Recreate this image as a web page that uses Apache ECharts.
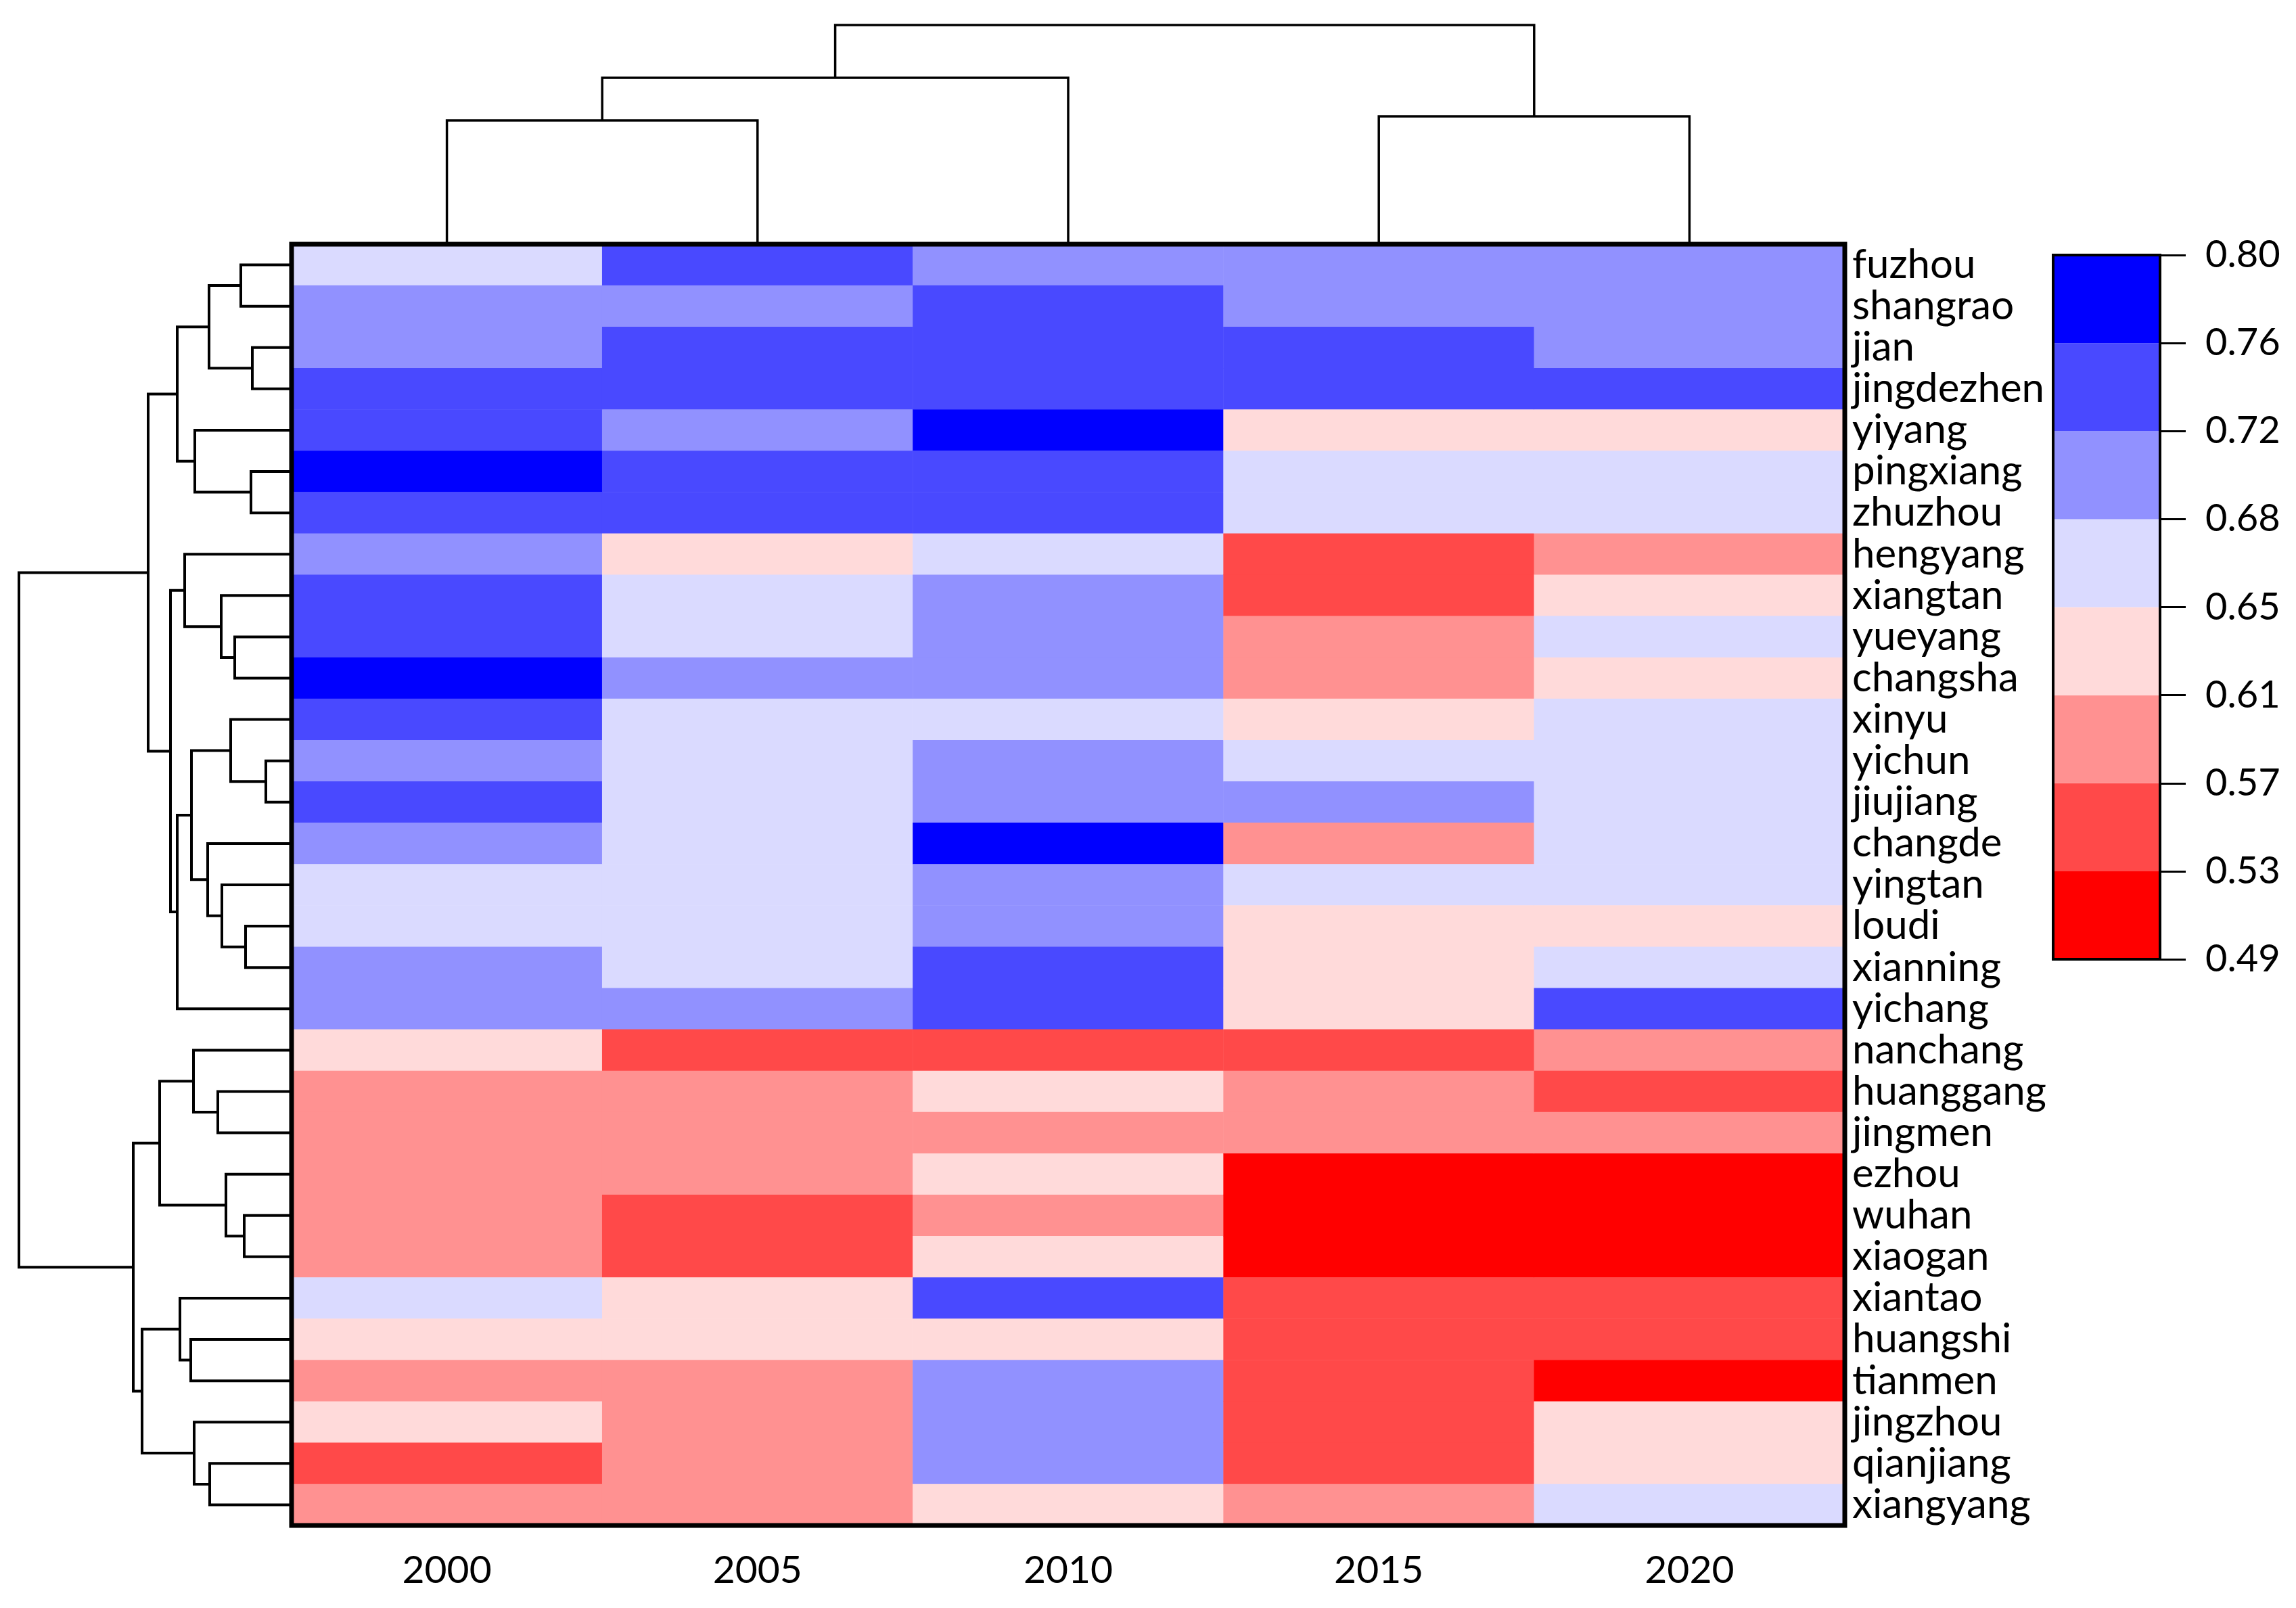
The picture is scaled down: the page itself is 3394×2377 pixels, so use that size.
<!DOCTYPE html>
<html>
<head>
<meta charset="utf-8">
<script src="https://cdn.jsdelivr.net/npm/echarts@6/dist/echarts.min.js"></script>
<style>
  html, body { margin: 0; padding: 0; background: #fff; }
  #main { width: 3394px; height: 2377px; }
</style>
</head>
<body>
<div id="main"></div>
<script>
// 列（年份）与行（城市）
const years = ['2000', '2005', '2010', '2015', '2020'];
const cities = [
  'fuzhou', 'shangrao', 'jian', 'jingdezhen', 'yiyang', 'pingxiang', 'zhuzhou',
  'hengyang', 'xiangtan', 'yueyang', 'changsha', 'xinyu', 'yichun', 'jiujiang',
  'changde', 'yingtan', 'loudi', 'xianning', 'yichang', 'nanchang', 'huanggang',
  'jingmen', 'ezhou', 'wuhan', 'xiaogan', 'xiantao', 'huangshi', 'tianmen',
  'jingzhou', 'qianjiang', 'xiangyang'
];

// 每年的数值，按城市顺序
const v2000 = [0.66, 0.70, 0.70, 0.74, 0.74, 0.78, 0.74, 0.70, 0.74, 0.74, 0.78, 0.74, 0.70, 0.74, 0.70, 0.66,
  0.66, 0.70, 0.70, 0.63, 0.59, 0.59, 0.59, 0.59, 0.59, 0.66, 0.63, 0.59, 0.63, 0.55, 0.59];
const v2005 = [0.74, 0.70, 0.74, 0.74, 0.70, 0.74, 0.74, 0.63, 0.66, 0.66, 0.70, 0.66, 0.66, 0.66, 0.66, 0.66,
  0.66, 0.66, 0.70, 0.55, 0.59, 0.59, 0.59, 0.55, 0.55, 0.63, 0.63, 0.59, 0.59, 0.59, 0.59];
const v2010 = [0.70, 0.74, 0.74, 0.74, 0.78, 0.74, 0.74, 0.66, 0.70, 0.70, 0.70, 0.66, 0.70, 0.70, 0.78, 0.70,
  0.70, 0.74, 0.74, 0.55, 0.63, 0.59, 0.63, 0.59, 0.63, 0.74, 0.63, 0.70, 0.70, 0.70, 0.63];
const v2015 = [0.70, 0.70, 0.74, 0.74, 0.63, 0.66, 0.66, 0.55, 0.55, 0.59, 0.59, 0.63, 0.66, 0.70, 0.59, 0.66,
  0.63, 0.63, 0.63, 0.55, 0.59, 0.59, 0.51, 0.51, 0.51, 0.55, 0.55, 0.55, 0.55, 0.55, 0.59];
const v2020 = [0.70, 0.70, 0.70, 0.74, 0.63, 0.66, 0.66, 0.59, 0.63, 0.66, 0.63, 0.66, 0.66, 0.66, 0.66, 0.66,
  0.63, 0.66, 0.74, 0.59, 0.55, 0.59, 0.51, 0.51, 0.51, 0.55, 0.55, 0.51, 0.63, 0.63, 0.66];
const yearValues = [v2000, v2005, v2010, v2015, v2020];

// 色带分段
const breaks = [0.49, 0.52875, 0.5675, 0.60625, 0.645, 0.68375, 0.7225, 0.76125, 0.80];
const breakLabels = ['0.49', '0.53', '0.57', '0.61', '0.65', '0.68', '0.72', '0.76', '0.80'];
const binColors = ['#FF0000', '#FF4949', '#FF9191', '#FFDADA', '#DADAFF', '#9191FF', '#4949FF', '#0000FF'];

// 聚类树：[左节点, 右节点, 合并高度]，叶子为 0..n-1，新节点依次编号
const rowLinkage = [
  [0, 1, 0.75], [2, 3, 0.58], [31, 32, 1.22], [5, 6, 0.60], [4, 34, 1.43], [33, 35, 1.69],
  [9, 10, 0.84], [8, 37, 1.04], [7, 38, 1.58], [12, 13, 0.38], [11, 40, 0.90], [16, 17, 0.68],
  [15, 42, 1.03], [14, 43, 1.24], [41, 44, 1.48], [45, 18, 1.69], [39, 46, 1.79], [36, 47, 2.12],
  [20, 21, 1.09], [19, 49, 1.45], [23, 24, 0.70], [22, 51, 0.97], [50, 52, 1.95], [26, 27, 1.49],
  [25, 54, 1.65], [29, 30, 1.21], [28, 56, 1.44], [55, 57, 2.21], [53, 58, 2.34], [48, 59, 4.03]
];
const colLinkage = [[0, 1, 1.83], [5, 2, 2.46], [3, 4, 1.89], [6, 7, 3.24]];

const FONT = 'Lato';

function dendroSegments(linkage, nLeaves) {
  const pos = [], h = [];
  for (let i = 0; i < nLeaves; i++) { pos.push(i); h.push(0); }
  const segs = [];
  linkage.forEach(m => {
    const a = m[0], b = m[1];
    segs.push([pos[a], h[a], pos[b], h[b], m[2]]);
    pos.push((pos[a] + pos[b]) / 2);
    h.push(m[2]);
  });
  return segs;
}

const heatData = [];
yearValues.forEach((vals, j) => {
  vals.forEach((v, i) => heatData.push([j, i, v]));
});

const pieces = binColors.map((c, i) => ({ gte: breaks[i], lt: breaks[i + 1], color: c }));
pieces[pieces.length - 1].lte = breaks[breaks.length - 1];
delete pieces[pieces.length - 1].lt;

const legendSeries = binColors.map((c, i) => ({
  type: 'bar',
  xAxisIndex: 3,
  yAxisIndex: 3,
  stack: 'legend',
  barWidth: '100%',
  data: [1],
  itemStyle: { color: c },
  silent: true
}));

const chart = echarts.init(document.getElementById('main'));

chart.setOption({
  backgroundColor: '#fff',
  animation: false,
  grid: [
    // 0 热图
    { left: 431, top: 361, width: 2296, height: 1894, show: true, borderColor: '#000', borderWidth: 7, z: 10 },
    // 1 左侧聚类树
    { left: 28, top: 361, width: 403, height: 1894 },
    // 2 顶部聚类树
    { left: 431, top: 37, width: 2296, height: 324 },
    // 3 色带
    { left: 3035, top: 377, width: 158, height: 1041, show: true, borderColor: '#000', borderWidth: 4, z: 10 }
  ],
  xAxis: [
    {
      gridIndex: 0, type: 'category', data: years,
      axisLine: { show: false }, axisTick: { show: false },
      axisLabel: { fontSize: 57, fontFamily: FONT, color: '#000', margin: 38 }
    },
    { gridIndex: 1, type: 'value', min: 0, max: 4.03, inverse: true, show: false },
    { gridIndex: 2, type: 'value', min: -0.5, max: 4.5, show: false },
    { gridIndex: 3, type: 'category', data: ['k'], show: false }
  ],
  yAxis: [
    {
      gridIndex: 0, type: 'category', data: cities, inverse: true, position: 'right',
      axisLine: { show: false }, axisTick: { show: false },
      axisLabel: { fontSize: 60, fontFamily: FONT, color: '#000', margin: 11, interval: 0 }
    },
    { gridIndex: 1, type: 'value', min: -0.5, max: 30.5, inverse: true, show: false },
    { gridIndex: 2, type: 'value', min: 0, max: 3.24, show: false },
    {
      gridIndex: 3, type: 'value', min: 0, max: 8, interval: 1, position: 'right',
      splitLine: { show: false },
      axisLine: { show: false },
      axisTick: { show: true, inside: false, length: 38, lineStyle: { color: '#000', width: 3 } },
      axisLabel: {
        fontSize: 56, fontFamily: FONT, color: '#000', margin: 67,
        showMinLabel: true, showMaxLabel: true,
        formatter: v => breakLabels[v]
      }
    }
  ],
  visualMap: {
    type: 'piecewise',
    show: false,
    seriesIndex: 0,
    dimension: 2,
    pieces: pieces
  },
  series: [
    {
      type: 'heatmap',
      xAxisIndex: 0,
      yAxisIndex: 0,
      data: heatData,
      itemStyle: { borderWidth: 0 },
      emphasis: { disabled: true }
    },
    {
      type: 'custom',
      xAxisIndex: 1,
      yAxisIndex: 1,
      data: dendroSegments(rowLinkage, cities.length),
      renderItem: function (params, api) {
        const pa = api.value(0), ha = api.value(1), pb = api.value(2), hb = api.value(3), hm = api.value(4);
        return {
          type: 'polyline',
          shape: { points: [api.coord([ha, pa]), api.coord([hm, pa]), api.coord([hm, pb]), api.coord([hb, pb])] },
          style: { stroke: '#000', lineWidth: 4, fill: null }
        };
      },
      silent: true
    },
    {
      type: 'custom',
      xAxisIndex: 2,
      yAxisIndex: 2,
      data: dendroSegments(colLinkage, years.length),
      renderItem: function (params, api) {
        const pa = api.value(0), ha = api.value(1), pb = api.value(2), hb = api.value(3), hm = api.value(4);
        return {
          type: 'polyline',
          shape: { points: [api.coord([pa, ha]), api.coord([pa, hm]), api.coord([pb, hm]), api.coord([pb, hb])] },
          style: { stroke: '#000', lineWidth: 3.5, fill: null }
        };
      },
      silent: true
    }
  ].concat(legendSeries)
});
</script>
</body>
</html>
